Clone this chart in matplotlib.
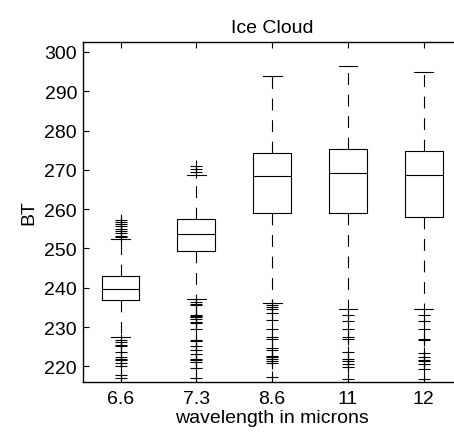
import matplotlib
matplotlib.use('Agg')
import matplotlib.pyplot as plt

plt.rcParams['font.family'] = ['Liberation Sans', 'DejaVu Sans']
plt.rcParams['lines.scale_dashes'] = False

# wavelengths (categories)
labels = ['6.6', '7.3', '8.6', '11', '12']

# box statistics (BT)
q1 = [236.9, 249.3, 258.9, 258.9, 258.1]
med = [239.6, 253.7, 268.5, 269.3, 268.7]
q3 = [243.0, 257.5, 274.2, 275.4, 274.8]
whislo = [227.4, 237.1, 236.2, 234.6, 234.6]
whishi = [252.3, 268.7, 293.9, 296.3, 294.9]

# outliers
fliers_66 = [257.3, 256.8, 256.2, 255.6, 255.0, 254.5, 253.9, 253.3, 252.8,
             226.7, 226.3, 225.4, 225.1, 223.6, 222.3, 222.0, 221.7, 221.0,
             220.0, 217.8, 217.0]
fliers_73 = [271.0, 270.2, 269.5,
             236.5, 236.0, 235.6, 233.1, 232.9, 232.6, 232.0, 231.4, 231.1,
             229.5, 226.7, 226.4, 225.2, 224.2, 223.1, 222.0, 221.6, 221.2,
             219.5, 217.0]
fliers_86 = [235.7, 235.2, 234.6, 233.5, 231.8, 229.5, 227.5, 227.1, 224.8,
             224.2, 222.7, 222.3, 221.9, 221.4, 220.8, 217.2]
fliers_11 = [233.1, 231.5, 229.5, 227.4, 227.0, 223.6, 221.9, 221.4, 220.6,
             219.8, 216.8]
fliers_12 = [233.1, 231.5, 229.5, 227.1, 226.8, 223.3, 222.3, 221.7, 221.4,
             220.6, 219.3, 216.8]
fliers = [fliers_66, fliers_73, fliers_86, fliers_11, fliers_12]

stats = []
for i in range(len(labels)):
    stats.append({'label': labels[i], 'q1': q1[i], 'med': med[i], 'q3': q3[i],
                  'whislo': whislo[i], 'whishi': whishi[i], 'fliers': fliers[i]})

fig = plt.figure(figsize=(4.54, 4.39), dpi=100)
ax = fig.add_axes([0.182, 0.128, 0.835, 0.774])

lw = 0.8
ax.bxp(stats, widths=0.5,
       boxprops=dict(color='black', linewidth=lw),
       medianprops=dict(color='black', linewidth=lw),
       whiskerprops=dict(color='black', linewidth=lw, linestyle=(0, (8.5, 7))),
       capprops=dict(color='black', linewidth=lw),
       flierprops=dict(marker='+', markersize=8.5, markeredgecolor='black',
                       markeredgewidth=lw, linestyle='none'),
       capwidths=0.25)

ax.set_xlim(0.5, 5.5)
ax.set_ylim(216.1, 302.5)
ax.set_yticks(range(220, 301, 10))
ax.set_xticks(range(1, 6))
ax.set_xticklabels(labels)
ax.tick_params(direction='in', length=4, width=0.8, labelsize=14, top=True, right=False)
ax.tick_params(axis='x', pad=6)
ax.tick_params(axis='y', pad=4)
for s in ax.spines.values():
    s.set_linewidth(1.0)
ax.spines['right'].set_visible(False)

ax.set_title('Ice Cloud', fontsize=14, pad=7)
ax.set_xlabel('wavelength in microns', fontsize=14, labelpad=1)
ax.set_ylabel('BT', fontsize=14, labelpad=5)

fig.savefig('out.png', dpi=100)
